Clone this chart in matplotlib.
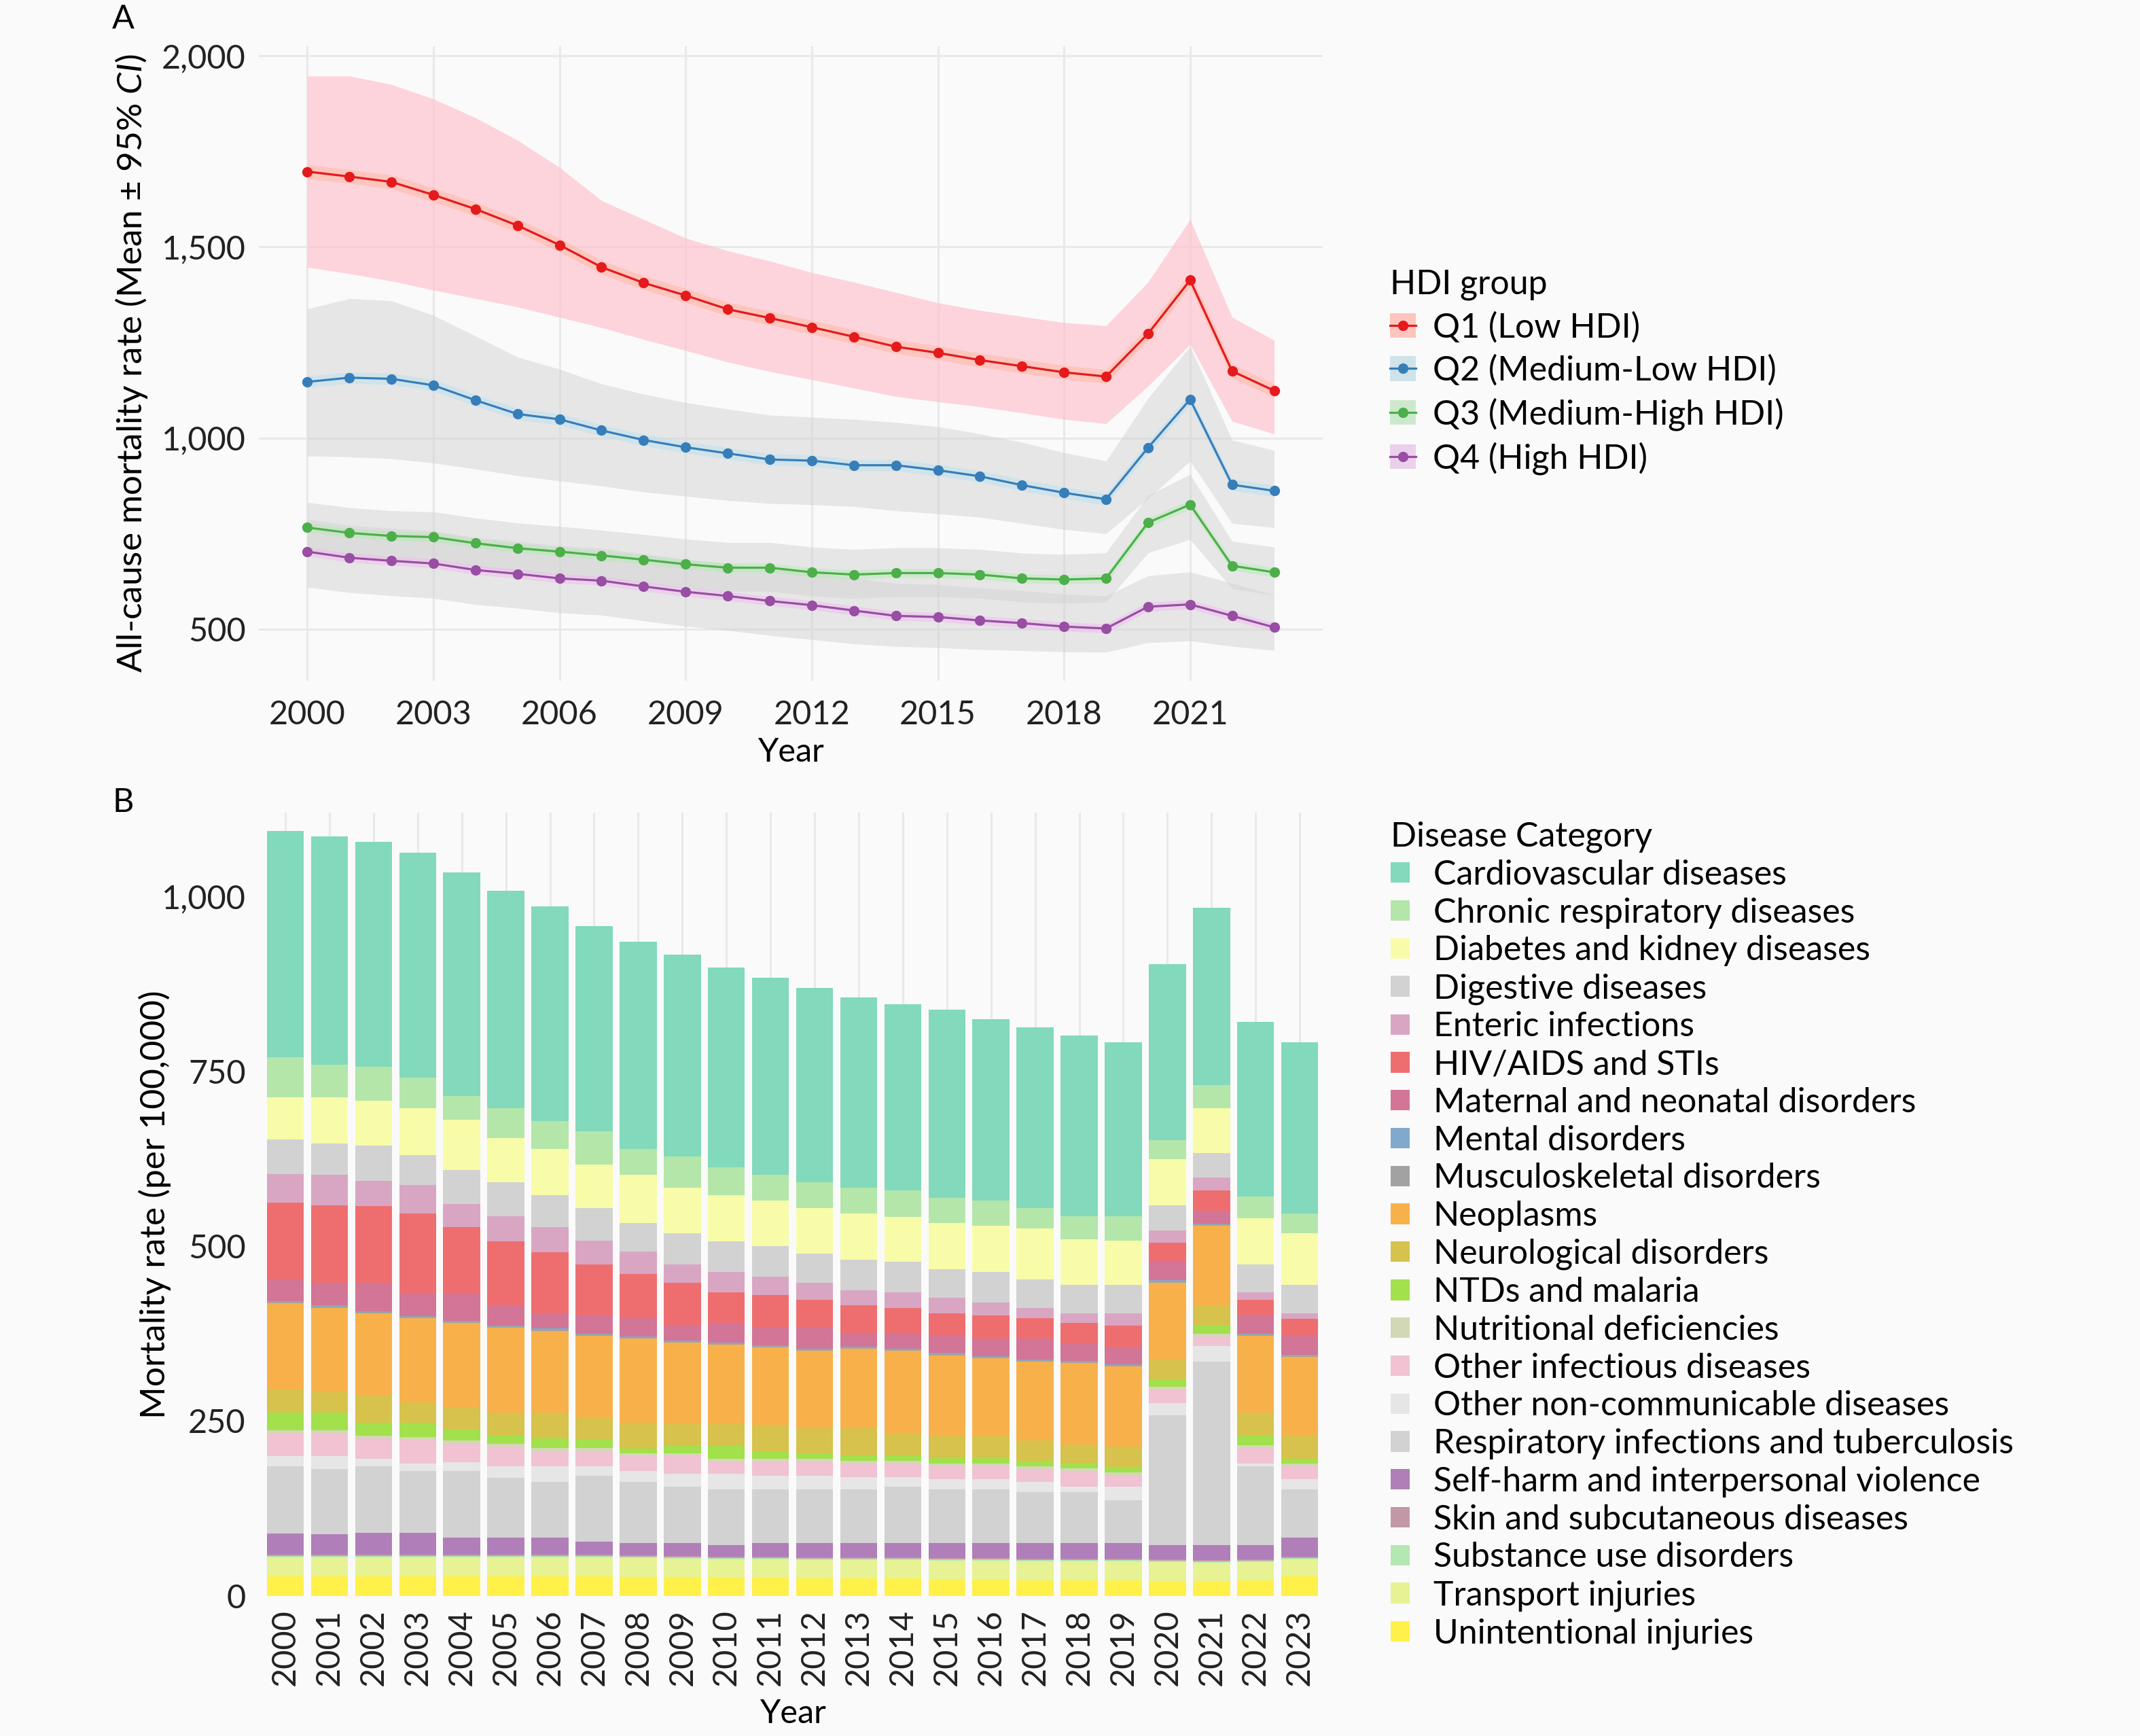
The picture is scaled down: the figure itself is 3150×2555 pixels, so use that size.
import matplotlib
matplotlib.use('Agg')
import matplotlib.pyplot as plt
from matplotlib.patches import Patch
from matplotlib.lines import Line2D
from matplotlib.ticker import FuncFormatter

plt.rcParams['font.family'] = ['Lato', 'DejaVu Sans']
plt.rcParams['mathtext.fontset'] = 'custom'
plt.rcParams['mathtext.it'] = 'Lato:italic'
plt.rcParams['mathtext.rm'] = 'Lato'

years = list(range(2000, 2024))

# ---- panel A : HDI groups, mean and CI ----
hdi_groups = ['Q1 (Low HDI)', 'Q2 (Medium-Low HDI)', 'Q3 (Medium-High HDI)', 'Q4 (High HDI)']

q1_mean = [1697, 1684, 1670, 1636, 1599, 1556, 1505, 1447, 1406, 1373, 1337, 1314, 1290, 1265, 1239, 1223, 1204, 1188, 1172, 1161, 1273, 1413, 1175, 1124]
q1_hi = [1947, 1947, 1925, 1887, 1838, 1779, 1708, 1621, 1572, 1523, 1490, 1463, 1433, 1408, 1381, 1354, 1334, 1318, 1302, 1294, 1408, 1572, 1316, 1256]
q1_lo = [1447, 1430, 1411, 1387, 1365, 1343, 1316, 1289, 1258, 1229, 1199, 1174, 1153, 1131, 1109, 1095, 1082, 1066, 1049, 1038, 1136, 1245, 1044, 1011]

q2_mean = [1147, 1158, 1155, 1138, 1099, 1063, 1049, 1020, 995, 976, 960, 944, 941, 929, 929, 916, 900, 877, 857, 840, 975, 1101, 878, 862]
q2_hi = [1338, 1365, 1359, 1321, 1267, 1212, 1180, 1142, 1115, 1093, 1076, 1060, 1055, 1049, 1041, 1030, 1011, 989, 962, 940, 1104, 1240, 995, 968]
q2_lo = [953, 951, 946, 935, 919, 902, 888, 875, 859, 848, 837, 829, 826, 821, 810, 802, 793, 777, 761, 750, 842, 940, 777, 766]

q3_mean = [766, 752, 744, 741, 725, 712, 703, 693, 682, 670, 661, 661, 649, 643, 647, 647, 643, 633, 630, 633, 779, 826, 666, 649]
q3_hi = [832, 818, 810, 807, 791, 778, 769, 759, 748, 736, 727, 727, 715, 709, 713, 713, 709, 699, 696, 700, 850, 905, 730, 715]
q3_lo = [704, 690, 682, 679, 663, 650, 641, 631, 620, 608, 599, 599, 587, 581, 585, 585, 581, 571, 568, 571, 700, 735, 606, 589]

q4_mean = [703, 687, 679, 672, 655, 645, 633, 627, 612, 598, 587, 574, 563, 549, 535, 532, 523, 516, 507, 502, 559, 565, 535, 505]
q4_hi = [788, 772, 764, 757, 740, 730, 718, 712, 697, 683, 672, 659, 648, 634, 620, 617, 608, 601, 592, 587, 640, 650, 620, 590]
q4_lo = [610, 596, 588, 581, 565, 555, 543, 537, 522, 508, 497, 484, 473, 462, 455, 452, 447, 444, 441, 440, 465, 470, 455, 445]

# half width of the narrow band drawn right around each mean line
narrow_half = [18, 15, 12, 12]

# ---- panel B : stacked disease categories (bottom -> top) ----
unintentional = [28, 28, 28, 28, 28, 28, 28, 28, 27, 27, 26, 26, 25, 25, 25, 24, 24, 22, 22, 22, 21, 21, 22, 28]
transport = [27, 27, 27, 27, 27, 27, 27, 27, 27, 26, 26, 26, 26, 26, 26, 26, 26, 27, 27, 27, 27, 26, 26, 24]
substance = [2, 2, 2, 2, 2, 2, 2, 2, 2, 2, 2, 2, 2, 2, 2, 2, 2, 2, 2, 2, 2, 2, 2, 2]
skin = [2, 2, 2, 2, 2, 2, 2, 2, 2, 2, 2, 2, 2, 2, 2, 2, 2, 2, 2, 2, 2, 2, 2, 2]
self_harm = [30, 29, 31, 31, 24, 24, 24, 18, 17, 18, 16, 19, 20, 20, 20, 21, 21, 22, 22, 22, 20, 21, 20, 27]
resp_inf = [96, 93, 95, 88, 95, 86, 80, 95, 88, 81, 80, 77, 77, 77, 81, 77, 77, 73, 73, 62, 186, 263, 113, 69]
other_ncd = [15, 19, 11, 11, 13, 16, 22, 13, 15, 18, 22, 20, 20, 18, 14, 15, 15, 15, 8, 19, 18, 22, 4, 15]
other_inf = [33, 33, 29, 34, 27, 28, 22, 22, 22, 26, 18, 20, 20, 19, 19, 18, 18, 18, 22, 16, 19, 14, 22, 18]
nutritional = [4, 4, 4, 4, 4, 4, 4, 4, 4, 4, 4, 4, 4, 4, 4, 4, 4, 4, 4, 4, 4, 4, 4, 4]
ntds = [25, 25, 18, 20, 16, 12, 14, 12, 6, 10, 18, 11, 8, 8, 8, 8, 8, 8, 8, 8, 10, 11, 14, 7]
neuro = [33, 29, 39, 30, 31, 33, 37, 31, 37, 31, 31, 37, 36, 39, 32, 33, 32, 29, 26, 29, 30, 29, 33, 33]
neoplasms = [123, 121, 118, 120, 121, 121, 117, 118, 121, 117, 114, 111, 110, 113, 117, 114, 111, 113, 117, 115, 109, 114, 110, 113]
musculo = [2, 2, 2, 2, 2, 2, 2, 2, 2, 2, 2, 2, 2, 2, 2, 2, 2, 2, 2, 2, 2, 2, 2, 2]
mental = [1, 1, 1, 1, 1, 1, 1, 1, 1, 1, 1, 1, 1, 1, 1, 1, 1, 1, 1, 1, 1, 1, 1, 1]
maternal = [31, 33, 41, 32, 39, 29, 22, 26, 26, 21, 28, 25, 30, 19, 22, 25, 25, 30, 25, 24, 27, 19, 26, 27]
hiv = [110, 110, 109, 115, 95, 92, 87, 73, 63, 62, 44, 47, 40, 40, 37, 32, 33, 29, 29, 31, 27, 29, 22, 24]
enteric = [41, 44, 36, 40, 33, 36, 36, 34, 32, 26, 29, 26, 25, 22, 22, 22, 18, 15, 14, 18, 17, 18, 11, 8]
digestive = [50, 45, 51, 43, 49, 48, 46, 46, 41, 44, 44, 44, 41, 44, 44, 41, 44, 40, 41, 41, 36, 35, 40, 41]
diabetes = [60, 66, 64, 67, 72, 64, 66, 63, 69, 66, 66, 65, 65, 66, 64, 66, 66, 73, 65, 63, 66, 64, 66, 73]
chronic_resp = [57, 46, 49, 44, 34, 42, 40, 47, 37, 44, 40, 37, 37, 37, 38, 36, 36, 29, 33, 35, 28, 33, 31, 29]
cardio = [324, 327, 321, 322, 319, 311, 307, 294, 296, 289, 285, 282, 278, 272, 266, 269, 260, 259, 258, 249, 251, 254, 250, 245]

# stacking order, bottom first
stack = [
    ('Unintentional injuries', unintentional, '#fff04a'),
    ('Transport injuries', transport, '#e6f294'),
    ('Substance use disorders', substance, '#b4e8b2'),
    ('Skin and subcutaneous diseases', skin, '#c398a6'),
    ('Self-harm and interpersonal violence', self_harm, '#b07eb8'),
    ('Respiratory infections and tuberculosis', resp_inf, '#d2d2d2'),
    ('Other non-communicable diseases', other_ncd, '#e6e6e6'),
    ('Other infectious diseases', other_inf, '#f0c2d2'),
    ('Nutritional deficiencies', nutritional, '#d2d8b4'),
    ('NTDs and malaria', ntds, '#a2e04c'),
    ('Neurological disorders', neuro, '#d6c24c'),
    ('Neoplasms', neoplasms, '#f8b14a'),
    ('Musculoskeletal disorders', musculo, '#a2a2a2'),
    ('Mental disorders', mental, '#80a9cc'),
    ('Maternal and neonatal disorders', maternal, '#d27596'),
    ('HIV/AIDS and STIs', hiv, '#ee6e70'),
    ('Enteric infections', enteric, '#d8a6c2'),
    ('Digestive diseases', digestive, '#d2d2d2'),
    ('Diabetes and kidney diseases', diabetes, '#f8fca8'),
    ('Chronic respiratory diseases', chronic_resp, '#b4e6aa'),
    ('Cardiovascular diseases', cardio, '#82d9bb'),
]

BG = '#fafafa'
GRID = '#e9e9e9'
comma = FuncFormatter(lambda v, p: '{:,.0f}'.format(v))


def draw_trend(ax):
    series = [
        (q1_mean, q1_lo, q1_hi, '#e41a1c', '#ffc0cb', 0.65, '#ffb090'),
        (q2_mean, q2_lo, q2_hi, '#377eb8', '#d3d3d3', 0.5, '#aee0f5'),
        (q3_mean, q3_lo, q3_hi, '#4daf4a', '#d3d3d3', 0.5, '#a8f0a8'),
        (q4_mean, q4_lo, q4_hi, '#984ea3', '#d3d3d3', 0.5, '#f4b0f4'),
    ]
    handles = []
    for i, (m, lo, hi, col, wide, wa, narrow) in enumerate(series):
        ax.fill_between(years, lo, hi, color=wide, alpha=wa, lw=0, zorder=2)
        h = narrow_half[i]
        ax.fill_between(years, [v - h for v in m], [v + h for v in m],
                        color=narrow, alpha=0.4, lw=0, zorder=3)
        ax.plot(years, m, color=col, lw=2.3, marker='o', ms=10,
                markeredgecolor=col, zorder=4)
        handles.append((Patch(facecolor=wide, alpha=wa, lw=0),
                        Patch(facecolor=narrow, alpha=0.4, lw=0),
                        Line2D([], [], color=col, lw=2.3, marker='o', ms=10)))

    ax.set_xlim(1998.85, 2024.15)
    ax.set_ylim(365, 2025)
    ax.set_xticks(range(2000, 2022, 3))
    ax.set_yticks([500, 1000, 1500, 2000])
    ax.yaxis.set_major_formatter(comma)
    ax.grid(True, color=GRID, lw=2.2, zorder=0)
    ax.set_axisbelow(True)
    ax.tick_params(length=0, labelsize=35, colors='#222222')
    ax.tick_params(axis='x', pad=20)
    ax.tick_params(axis='y', pad=14)
    ax.set_ylabel(r'All-cause mortality rate (Mean ± 95% $\mathit{CI}$)', fontsize=37)
    ax.set_xlabel('Year', fontsize=35)
    ax.yaxis.set_label_coords(-0.103, 0.5)
    ax.xaxis.set_label_coords(0.5, -0.089)
    for s in ax.spines.values():
        s.set_visible(False)
    ax.set_facecolor(BG)

    leg = ax.legend(handles, hdi_groups, title='HDI group', loc='upper left',
                    bbox_to_anchor=(1.035, 0.697), frameon=False, fontsize=36,
                    title_fontsize=36, handlelength=0.75, handleheight=0.75,
                    handletextpad=0.5, labelspacing=0.33)
    leg._legend_box.align = 'left'


def draw_bars(ax):
    x = list(range(len(years)))
    bottom = [0] * len(years)
    for name, vals, col in stack:
        ax.bar(x, vals, bottom=bottom, width=0.84, color=col, lw=0, zorder=2)
        bottom = [b + v for b, v in zip(bottom, vals)]

    ax.set_xlim(-0.6, len(years) - 0.4)
    ax.set_ylim(0, 1120)
    ax.set_xticks(x)
    ax.set_xticklabels([str(y) for y in years], rotation=90)
    ax.set_yticks([0, 250, 500, 750, 1000])
    ax.yaxis.set_major_formatter(comma)
    ax.grid(True, axis='x', color=GRID, lw=2.2, zorder=0)
    ax.set_axisbelow(True)
    ax.tick_params(length=0, labelsize=35, colors='#222222')
    ax.tick_params(axis='x', pad=14)
    ax.tick_params(axis='y', pad=14)
    ax.set_ylabel('Mortality rate (per 100,000)', fontsize=37)
    ax.set_xlabel('Year', fontsize=35)
    ax.yaxis.set_label_coords(-0.082, 0.5)
    ax.xaxis.set_label_coords(0.5, -0.131)
    for s in ax.spines.values():
        s.set_visible(False)
    ax.set_facecolor(BG)

    # legend listed alphabetically, i.e. the stack reversed
    names = [s[0] for s in stack][::-1]
    cols = [s[2] for s in stack][::-1]
    handles = [Patch(facecolor=c, lw=0) for c in cols]
    leg = ax.legend(handles, names, title='Disease Category', loc='upper left',
                    bbox_to_anchor=(1.032, 1.028), frameon=False, fontsize=36,
                    title_fontsize=36, handlelength=0.55, handleheight=0.55,
                    handletextpad=0.7, labelspacing=0.195)
    leg._legend_box.align = 'left'


if __name__ == '__main__':
    fig = plt.figure(figsize=(31.5, 25.55), dpi=100, facecolor=BG)
    ax_a = fig.add_axes([0.121, 0.6078, 0.497, 0.3656])
    ax_b = fig.add_axes([0.121, 0.0808, 0.4987, 0.4511])
    draw_trend(ax_a)
    draw_bars(ax_b)
    fig.text(181 / 3150, 1 - 28 / 2555, 'A', fontsize=35, ha='center', va='center')
    fig.text(181 / 3150, 1 - 1181 / 2555, 'B', fontsize=35, ha='center', va='center')
    fig.savefig('out.png', dpi=100, facecolor=BG)
